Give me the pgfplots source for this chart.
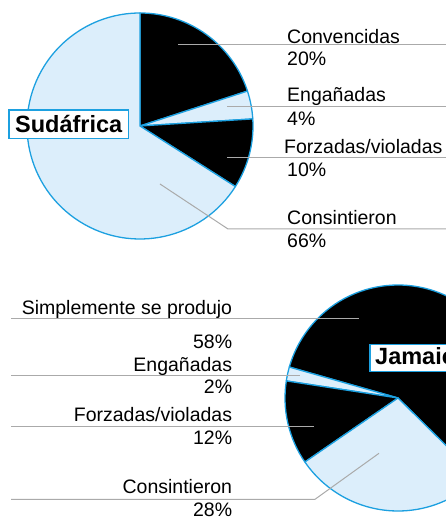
\documentclass[border=0pt]{standalone}
\usepackage{fontspec}
\setmainfont{Liberation Sans}
\usepackage{pgfplots}
\pgfplotsset{compat=1.18}
\definecolor{pieedge}{RGB}{28,160,224}
\definecolor{pielight}{RGB}{220,238,251}
\definecolor{leader}{RGB}{170,170,170}

% one wedge: centre x, centre y, start angle, percentage, direction (+1/-1), fill
\newcommand{\pieslice}[6]{%
  \filldraw[fill=#6, draw=pieedge, line width=1.3pt, line join=round]
    (axis cs:#1,#2) -- ++({#3}:113pt)
    arc[start angle={#3}, delta angle={#5*#4*3.6}, radius=113pt] -- cycle;}

\tikzset{
  lbl/.style={font=\fontsize{19.5}{23}\selectfont, inner sep=0pt},
  ttl/.style={font=\fontsize{23.5}{26}\selectfont\bfseries, inner sep=0pt},
  ldr/.style={draw=leader, line width=1pt},
}

\begin{document}
\begin{tikzpicture}
\useasboundingbox (0,0) rectangle (446pt,519pt);
\begin{axis}[
  anchor=origin, at={(0,0)},
  x=1pt, y=1pt,
  xmin=0, xmax=446, ymin=0, ymax=519,
  hide axis,
]
% ---- Sudafrica: 20, 4, 10, 66 (clockwise from top)
\pieslice{140}{393}{90}{20}{-1}{black}
\pieslice{140}{393}{90-3.6*20}{4}{-1}{pielight}
\pieslice{140}{393}{90-3.6*24}{10}{-1}{black}
\pieslice{140}{393}{90-3.6*34}{66}{-1}{pielight}

\draw[ldr] (axis cs:178,474) -- (axis cs:446,474);
\draw[ldr] (axis cs:227,412.3) -- (axis cs:446,412.3);
\draw[ldr] (axis cs:227,361.7) -- (axis cs:446,361.7);
\draw[ldr] (axis cs:160,335) -- (axis cs:228,290) -- (axis cs:446,290);

\node[lbl, anchor=base west] at (axis cs:287,475.7) {Convencidas};
\node[lbl, anchor=base west] at (axis cs:287,453.3) {20\%};
\node[lbl, anchor=base west] at (axis cs:287,417.3) {Engañadas};
\node[lbl, anchor=base west] at (axis cs:287,393) {4\%};
\node[lbl, anchor=base west] at (axis cs:284,365) {Forzadas/violadas};
\node[lbl, anchor=base west] at (axis cs:287,342.3) {10\%};
\node[lbl, anchor=base west] at (axis cs:287,294) {Consintieron};
\node[lbl, anchor=base west] at (axis cs:287,271) {66\%};

\filldraw[fill=white, draw=pieedge, line width=1.5pt] (axis cs:9,380.7) rectangle (axis cs:128.3,409);
\node[ttl, anchor=base west] at (axis cs:15,386.7) {Sudáfrica};

% ---- Jamaica: 58, 2, 12, 28 (counter-clockwise)
\pieslice{398}{121}{-44.7}{58}{1}{black}
\pieslice{398}{121}{-44.7+3.6*58}{2}{1}{pielight}
\pieslice{398}{121}{-44.7+3.6*60}{12}{1}{black}
\pieslice{398}{121}{-44.7+3.6*72}{28}{1}{pielight}

\draw[ldr] (axis cs:11,200.7) -- (axis cs:359,200.7);
\draw[ldr] (axis cs:11,143) -- (axis cs:300,143);
\draw[ldr] (axis cs:11,92.3) -- (axis cs:314,92.3);
\draw[ldr] (axis cs:11,19.7) -- (axis cs:315,19.7) -- (axis cs:379,65.7);

\node[lbl, anchor=base east] at (axis cs:232.3,204.7) {Simplemente se produjo};
\node[lbl, anchor=base east] at (axis cs:232.3,170.7) {58\%};
\node[lbl, anchor=base east] at (axis cs:232.3,147.3) {Engañadas};
\node[lbl, anchor=base east] at (axis cs:232.3,125.7) {2\%};
\node[lbl, anchor=base east] at (axis cs:232.3,97.3) {Forzadas/violadas};
\node[lbl, anchor=base east] at (axis cs:232.3,74.7) {12\%};
\node[lbl, anchor=base east] at (axis cs:232.3,25.7) {Consintieron};
\node[lbl, anchor=base east] at (axis cs:232.3,2.3) {28\%};

\filldraw[fill=white, draw=pieedge, line width=1.5pt] (axis cs:370,147.3) rectangle (axis cs:470,174.7);
\node[ttl, anchor=base west] at (axis cs:375,154) {Jamaica};
\end{axis}
\end{tikzpicture}
\end{document}
